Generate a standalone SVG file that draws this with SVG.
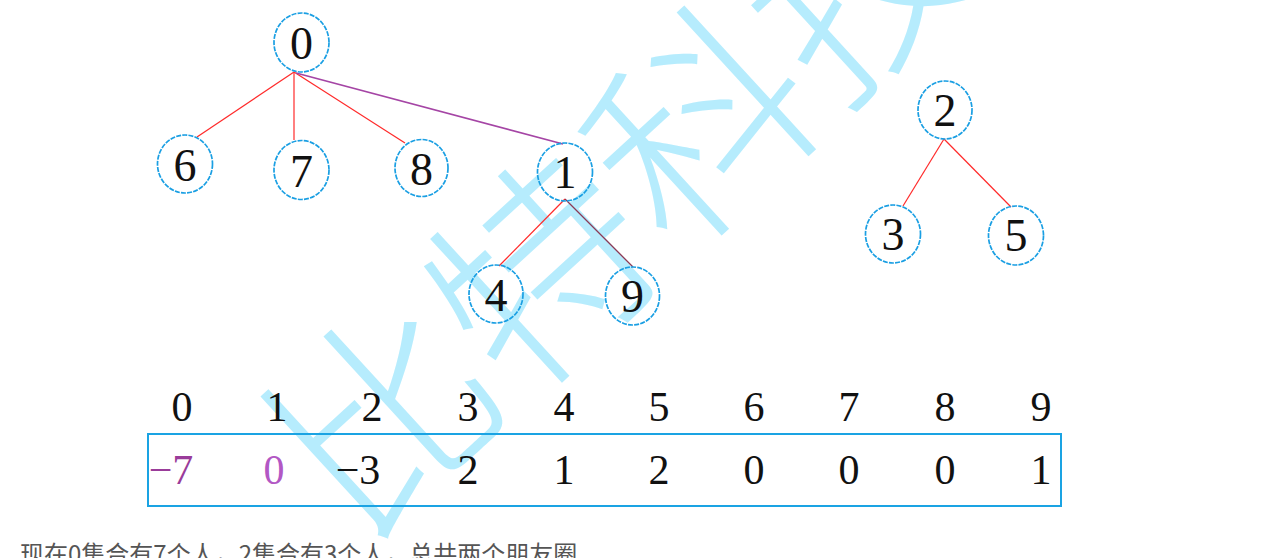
<svg xmlns="http://www.w3.org/2000/svg" width="1285" height="558" viewBox="0 0 1285 558">
<style>
.n{fill:#fff;fill-opacity:0;stroke:#1a9fe3;stroke-width:1.7;stroke-dasharray:5 1.2}
.t{font-family:"Liberation Serif","DejaVu Serif",serif;font-size:46px;fill:#111;text-anchor:middle}
.d{font-family:"Liberation Serif","DejaVu Serif",serif;font-size:42px;fill:#111;text-anchor:middle}
.r{stroke:#ff2a2a;stroke-width:1.2;fill:none}
.wm{font-family:"Noto Sans CJK SC",sans-serif;font-size:215px;font-weight:300;fill:#b6ecfd}
</style>
<rect width="1285" height="558" fill="#fff"/>
<g id="watermark">
<text class="wm" transform="translate(358,548) rotate(-42.5)" x="0" y="0">比特科技</text>
</g>
<g id="connectors">
<line class="r" x1="294" y1="72" x2="197" y2="137"/>
<line class="r" x1="294" y1="72" x2="294" y2="140"/>
<line class="r" x1="294" y1="72" x2="405" y2="143"/>
<line x1="296" y1="73" x2="563" y2="144" stroke="#a545a5" stroke-width="1.6"/>
<line class="r" x1="565" y1="199" x2="499" y2="266"/>
<line x1="565" y1="199" x2="633" y2="267" stroke="#8c3a55" stroke-width="1.3"/>
<line class="r" x1="944" y1="139" x2="903" y2="206"/>
<line class="r" x1="944" y1="139" x2="1011" y2="207"/>
</g>
<g id="node0"><ellipse class="n" cx="301.5" cy="42.5" rx="27.5" ry="29.5"/><text class="t" x="301.5" y="59">0</text></g>
<g id="node6"><ellipse class="n" cx="185" cy="164" rx="27.5" ry="29"/><text class="t" x="185" y="181">6</text></g>
<g id="node7"><ellipse class="n" cx="301.5" cy="170" rx="27.5" ry="29.5"/><text class="t" x="301.5" y="187">7</text></g>
<g id="node8"><ellipse class="n" cx="421.5" cy="168" rx="26.5" ry="28.5"/><text class="t" x="421.5" y="185">8</text></g>
<g id="node1"><ellipse class="n" cx="565" cy="172" rx="27.5" ry="29"/><text class="t" x="565" y="188">1</text></g>
<g id="node4"><ellipse class="n" cx="496" cy="294" rx="27" ry="29"/><text class="t" x="496" y="311">4</text></g>
<g id="node9"><ellipse class="n" cx="632.5" cy="296" rx="27" ry="29"/><text class="t" x="632.5" y="312">9</text></g>
<g id="node2"><ellipse class="n" cx="945" cy="110" rx="27" ry="29"/><text class="t" x="945" y="126">2</text></g>
<g id="node3"><ellipse class="n" cx="893" cy="234" rx="27.5" ry="29"/><text class="t" x="893" y="250">3</text></g>
<g id="node5"><ellipse class="n" cx="1016" cy="235.5" rx="27.5" ry="29.5"/><text class="t" x="1016" y="251">5</text></g>
<g id="table">
<rect x="148" y="434" width="913" height="72" fill="none" stroke="#1aa3e3" stroke-width="2"/>
<g class="idx">
<text class="d" x="182" y="421">0</text>
<text class="d" x="277" y="421">1</text>
<text class="d" x="372" y="421">2</text>
<text class="d" x="468" y="421">3</text>
<text class="d" x="564" y="421">4</text>
<text class="d" x="659" y="421">5</text>
<text class="d" x="754" y="421">6</text>
<text class="d" x="849" y="421">7</text>
<text class="d" x="945" y="421">8</text>
<text class="d" x="1041" y="421">9</text>
</g>
<g class="val">
<text class="d" x="171" y="484" style="fill:#9a3c9a">−7</text>
<text class="d" x="274" y="484" style="fill:#b257c4">0</text>
<text class="d" x="358" y="484">−3</text>
<text class="d" x="468" y="484">2</text>
<text class="d" x="564" y="484">1</text>
<text class="d" x="659" y="484">2</text>
<text class="d" x="754" y="484">0</text>
<text class="d" x="849" y="484">0</text>
<text class="d" x="945" y="484">0</text>
<text class="d" x="1041" y="484">1</text>
</g>
</g>
<text x="20" y="563" font-family="'Noto Sans CJK SC',sans-serif" font-size="24" fill="#555">现在0集合有7个人，2集合有3个人，总共两个朋友圈</text>
</svg>
